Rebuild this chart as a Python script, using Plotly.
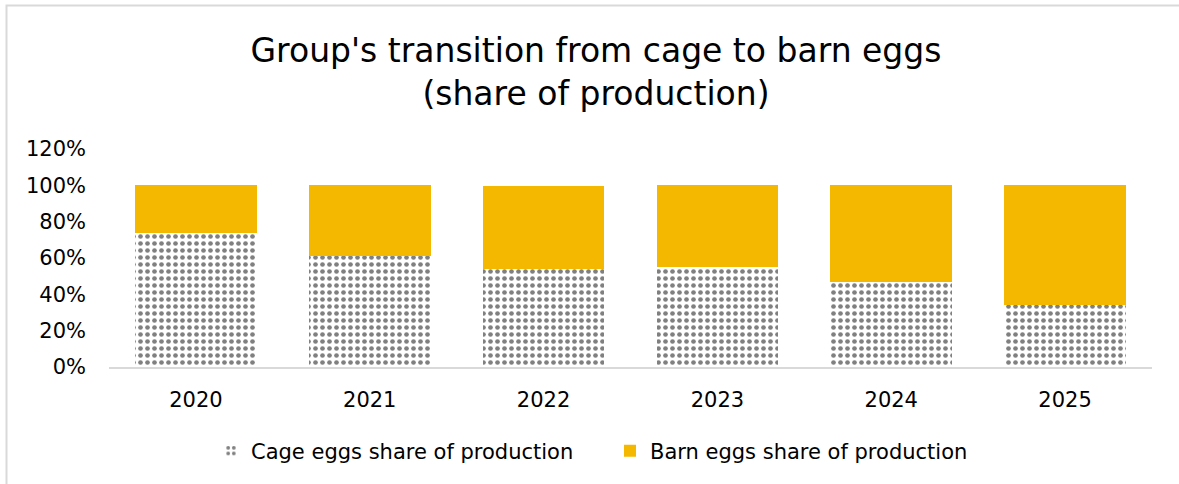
import plotly.graph_objects as go

years = ["2020", "2021", "2022", "2023", "2024", "2025"]
cage_share = [0.738, 0.612, 0.537, 0.549, 0.467, 0.339]
barn_share = [0.262, 0.388, 0.459, 0.451, 0.533, 0.661]
y_ticks = [0, 0.2, 0.4, 0.6, 0.8, 1.0, 1.2]

FONT = "DejaVu Sans"
W, H = 1179, 484
L, R, T, B = 109, 27, 149, 117
plot_w = W - L - R
plot_h = H - T - B


def px_x(p):
    return (p - L) / plot_w


def px_y(p):
    return (H - B - p) / plot_h


fig = go.Figure()
fig.add_trace(go.Bar(
    x=years, y=cage_share, name="Cage eggs share of production",
    marker=dict(color="white",
                pattern=dict(shape=".", size=7, solidity=0.35,
                             fgcolor="#808080", bgcolor="white",
                             fillmode="replace"),
                line=dict(width=0)),
))
fig.add_trace(go.Bar(
    x=years, y=barn_share, name="Barn eggs share of production",
    marker=dict(color="#F5B800", line=dict(width=0)),
))

# light frame around the chart area
fig.add_shape(type="rect", xref="paper", yref="paper",
              x0=px_x(6.5), x1=px_x(1300), y0=px_y(600), y1=px_y(5.5),
              line=dict(color="#d9d9d9", width=2), fillcolor="rgba(0,0,0,0)",
              layer="below")

fig.update_layout(
    width=W, height=H,
    barmode="stack", bargap=0.3,
    margin=dict(l=L, r=R, t=T, b=B),
    paper_bgcolor="white", plot_bgcolor="white",
    font=dict(family=FONT, size=21, color="#000000"),
    title=dict(text="Group's transition from cage to barn eggs<br>(share of production)",
               x=px_x(596), xref="paper", xanchor="center",
               y=1 - 62 / H, yref="container", yanchor="top",
               font=dict(family=FONT, size=33, color="#000000")),
    showlegend=True,
    legend=dict(orientation="h", x=px_x(211), xanchor="left",
                y=px_y(451), yanchor="middle",
                font=dict(family=FONT, size=21, color="#000000"),
                traceorder="normal", itemwidth=30,
                entrywidth=354, entrywidthmode="pixels"),
    xaxis=dict(showline=True, linecolor="#d9d9d9", linewidth=1.5,
               ticks="", showgrid=False, tickfont=dict(size=21),
               ticklabelstandoff=13),
    yaxis=dict(range=[0, 1.2], tickvals=y_ticks, tickformat=".0%",
               showgrid=False, zeroline=False, showline=False,
               tickfont=dict(size=21), ticklabelstandoff=22),
)

fig.write_html("out.html")
